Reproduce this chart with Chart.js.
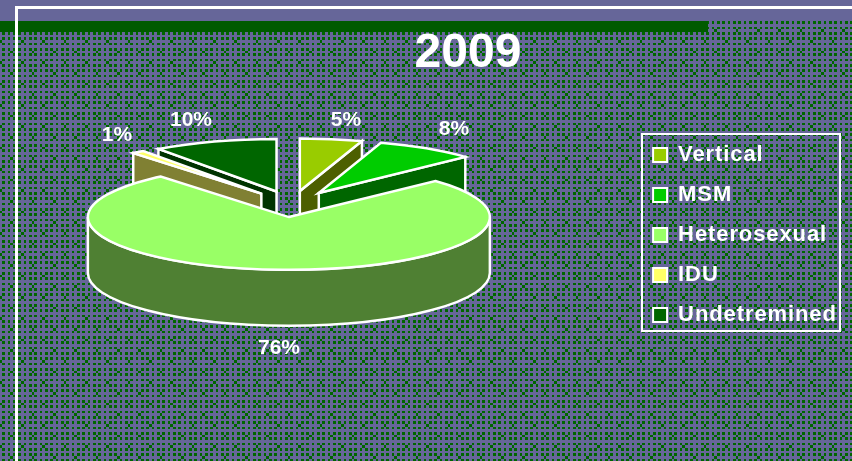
<!DOCTYPE html>
<html><head><meta charset="utf-8">
<script src="https://cdn.jsdelivr.net/npm/chart.js@4"></script>
<style>html,body{margin:0;padding:0;background:#666699;overflow:hidden}canvas{display:block}</style>
</head><body><canvas id="c" width="852" height="461"></canvas>
<script>
const categories = ['Vertical','MSM','Heterosexual','IDU','Undetremined'];
const shares = [5,8,76,1,10];
const topColors = ['#99CC00','#00CC00','#99FF66','#FFFF66','#006600'];
const wallColors = ['#4D5F00','#006600','#4F8033','#808033','#003300'];
const chartTitle = '2009';
const paintOrder = [4,3,0,1,2];
const labelAnchors = [[346,120],[454,129],[117,135],[279,348],[191,120]];
const labelIndex = [0,1,3,2,4];

const PIE_X = 292, PIE_Y = 204, SQUASH = 0.262, DEPTH = 56, EXPLODE = 50, RADIUS = 201;
const BG = '#666699', DOT = '#006600', BAND = '#005A00', WHITE = '#FFFFFF';

function isDot(cx,cy){
  if(cx%4<2 && cy%4<2) return true;
  if((cx===6||cx===7)&&(cy===2||cy===3)) return true;
  if((cx===14||cx===15)&&(cy===10||cy===11)) return true;
  return false;
}
function makePattern(ctx){
  const t = document.createElement('canvas'); t.width = 64; t.height = 64;
  const g = t.getContext('2d');
  g.fillStyle = BG; g.fillRect(0,0,64,64); g.fillStyle = DOT;
  for(let y=0;y<64;y++)for(let x=0;x<64;x++){
    const cx = (Math.floor((x-2)*0.75)+16)%16, cy = (Math.floor((y-4.67)*0.75)+16)%16;
    if(isDot(cx,cy)) g.fillRect(x,y,1,1);
  }
  return ctx.createPattern(t,'repeat');
}
const scene = {
  id:'scene',
  beforeDraw(chart){
    const {ctx} = chart;
    if(!chart.legend._spaced){
      chart.legend._spaced = true;
      const lg = chart.legend;
      const d = lg.draw.bind(lg);
      lg.draw = function(){
        const w = lg.width;
        lg.width = w + 30;
        ctx.save(); ctx.letterSpacing='0.9px'; d(); ctx.restore();
        lg.width = w;
      };
    }
    ctx.save();
    ctx.fillStyle = makePattern(ctx); ctx.fillRect(0,21,852,440);
    ctx.fillStyle = BG; ctx.fillRect(0,0,852,21);
    ctx.fillStyle = BAND; ctx.fillRect(0,21,708,11);
    ctx.fillStyle = WHITE; ctx.fillRect(15,6,837,3); ctx.fillRect(15,6,3,455);
    ctx.strokeStyle = WHITE; ctx.lineWidth = 2; ctx.strokeRect(642,134,198,197);
    ctx.restore();
  },
  beforeDatasetsDraw(chart){
    const {ctx} = chart;
    const arcs = chart.getDatasetMeta(0).data;
    ctx.save();
    ctx.strokeStyle = WHITE; ctx.lineWidth = 2.5; ctx.lineJoin = 'miter'; ctx.miterLimit = 6;
    paintOrder.forEach(i=>{
      const arc = arcs[i];
      const a0 = arc.startAngle, a1 = arc.endAngle, mid = (a0+a1)/2, r = arc.outerRadius;
      const cx = PIE_X + Math.cos(mid)*EXPLODE, cy = PIE_Y + Math.sin(mid)*EXPLODE*SQUASH;
      const wall = a=>{
        const px = cx+Math.cos(a)*r, py = cy+Math.sin(a)*r*SQUASH;
        ctx.beginPath(); ctx.moveTo(cx,cy); ctx.lineTo(px,py); ctx.lineTo(px,py+DEPTH); ctx.lineTo(cx,cy+DEPTH); ctx.closePath();
        ctx.fillStyle = wallColors[i]; ctx.fill(); ctx.stroke();
      };
      if(Math.cos(a0)<0) wall(a0);
      if(Math.cos(a1)>0) wall(a1);
      const f0 = Math.max(a0,0), f1 = Math.min(a1,Math.PI);
      if(f1>f0){
        ctx.beginPath();
        ctx.ellipse(cx,cy,r,r*SQUASH,0,f0,f1);
        ctx.ellipse(cx,cy+DEPTH,r,r*SQUASH,0,f1,f0,true);
        ctx.closePath();
        ctx.fillStyle = wallColors[i]; ctx.fill(); ctx.stroke();
      }
      ctx.save();
      ctx.translate(cx,cy); ctx.scale(1,SQUASH); ctx.translate(-arc.x,-arc.y);
      arc.draw(ctx);
      ctx.restore();
      ctx.beginPath(); ctx.moveTo(cx,cy);
      ctx.ellipse(cx,cy,r,r*SQUASH,0,a0,a1);
      ctx.closePath(); ctx.stroke();
    });
    ctx.restore();
    return false;
  },
  afterDraw(chart){
    const {ctx} = chart;
    ctx.save();
    ctx.fillStyle = WHITE; ctx.font = 'bold 21px "Liberation Sans"'; ctx.textAlign='center'; ctx.textBaseline='middle';
    labelAnchors.forEach((p,k)=>{ ctx.fillText(shares[labelIndex[k]]+'%',p[0],p[1]); });
    ctx.restore();
  }
};
new Chart(document.getElementById('c'),{
  type:'pie',
  data:{labels:categories,datasets:[{data:shares,backgroundColor:topColors,borderWidth:0,hoverOffset:0}]},
  options:{
    responsive:false,animation:false,radius:RADIUS,
    layout:{padding:{left:100,right:16,top:25,bottom:16}},
    plugins:{
      title:{display:true,text:chartTitle,color:WHITE,font:{family:'"Liberation Sans"',size:48,weight:'bold'},padding:0},
      tooltip:{enabled:false},
      legend:{position:'right',align:'center',labels:{
        color:WHITE,font:{family:'"Liberation Sans"',size:22,weight:'bold'},boxWidth:14,boxHeight:14,padding:18,
        generateLabels(chart){return categories.map((t,i)=>({text:t,fillStyle:topColors[i],strokeStyle:WHITE,fontColor:WHITE,lineWidth:2,index:i,hidden:false}));}
      }}
    }
  },
  plugins:[scene]
});
</script></body></html>
